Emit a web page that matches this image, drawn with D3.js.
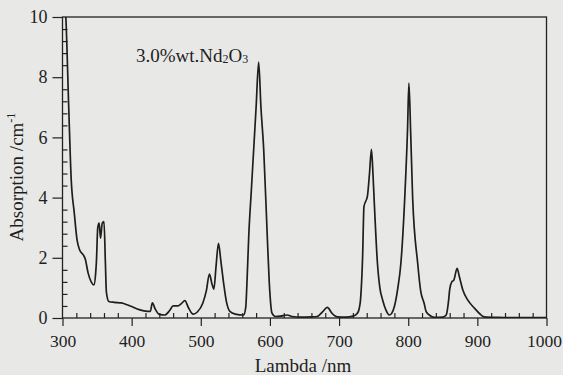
<!DOCTYPE html>
<html>
<head>
<meta charset="utf-8">
<script src="https://cdn.jsdelivr.net/npm/d3@7"></script>
<style>
  body { margin: 0; background: #e8e8e6; }
  svg text { font-family: "Liberation Serif", "DejaVu Serif", serif; fill: #1e1e1e; }
</style>
</head>
<body>
<div id="chart"></div>
<script>
// wavelength (nm) and absorption (cm^-1)
const lambda = [302, 305, 309, 312.6, 317, 321, 325, 330, 333, 337, 341.5, 345.5, 348, 349, 351, 353, 355, 357.5, 360, 362, 363.5, 367, 375, 385, 392, 400, 411, 420, 427, 430, 434, 440, 448, 455, 460, 467, 472, 477, 482, 489, 495, 503, 508, 512.5, 516, 519, 522, 525.6, 529, 533, 537, 542, 550, 562, 565, 567, 569.5, 573, 576.5, 580, 583.7, 587, 591, 596, 599, 603, 608, 615, 625, 632, 645, 660, 668, 676, 683, 690, 697, 710, 720, 726.5, 729, 731, 734, 736, 741, 744, 746.8, 749, 750.6, 755.5, 759, 763, 768, 772.5, 776, 780, 785, 789.4, 795, 799, 801, 803.5, 806.4, 813.7, 818, 823, 826, 830.5, 838, 850, 855, 858, 860, 863, 866, 870.7, 874, 879, 886, 896, 903, 910, 930, 960, 1000];
const absorption = [10.8, 9.9, 7.0, 4.6, 3.5, 2.6, 2.25, 2.1, 1.95, 1.5, 1.2, 1.1, 1.5, 1.85, 3.0, 3.15, 2.65, 3.15, 3.2, 1.85, 0.85, 0.55, 0.52, 0.5, 0.45, 0.38, 0.28, 0.23, 0.22, 0.5, 0.3, 0.12, 0.1, 0.25, 0.4, 0.4, 0.48, 0.58, 0.35, 0.13, 0.2, 0.5, 0.9, 1.46, 1.15, 0.96, 1.7, 2.48, 1.9, 1.16, 0.55, 0.22, 0.13, 0.1, 0.35, 1.3, 2.8, 4.2, 5.6, 7.0, 8.5, 7.0, 5.6, 2.8, 1.2, 0.16, 0.05, 0.06, 0.1, 0.05, 0.03, 0.04, 0.05, 0.2, 0.35, 0.15, 0.04, 0.03, 0.06, 0.16, 0.3, 0.6, 2.0, 3.7, 4.05, 4.8, 5.6, 4.8, 4.0, 1.82, 1.0, 0.6, 0.25, 0.1, 0.15, 0.38, 1.0, 1.82, 4.0, 6.25, 7.8, 6.2, 4.0, 1.82, 0.9, 0.49, 0.21, 0.1, 0.02, 0.03, 0.1, 0.5, 0.95, 1.2, 1.26, 1.65, 1.37, 0.93, 0.6, 0.32, 0.15, 0.04, 0.02, 0.01, 0.01];

const xTicks = [300, 400, 500, 600, 700, 800, 900, 1000];
const yTicks = [0, 2, 4, 6, 8, 10];
const sampleLabel = ["3.0%wt.Nd", "2", "O", "3"];

const width = 563, height = 375;
const plotLeft = 62.5, plotRight = 546.5, plotTop = 17, plotBottom = 318;

const svg = d3.select("#chart").append("svg")
    .attr("width", width)
    .attr("height", height);

svg.append("rect")
    .attr("width", width).attr("height", height)
    .attr("fill", "#e8e8e6");

const x = d3.scaleLinear().domain([300, 1000]).range([plotLeft, plotRight]);
const y = d3.scaleLinear().domain([0, 10]).range([plotBottom, plotTop]);

// frame
svg.append("rect")
    .attr("x", plotLeft).attr("y", plotTop)
    .attr("width", plotRight - plotLeft).attr("height", plotBottom - plotTop)
    .attr("fill", "none")
    .attr("stroke", "#222")
    .attr("stroke-width", 1.3);

// x axis: major ticks out, minor ticks in
const xAxis = svg.append("g").attr("transform", `translate(0,${plotBottom})`);
xAxis.call(d3.axisBottom(x).tickValues(d3.range(320, 1000, 20).filter(v => v % 100 != 0))
        .tickSize(-5).tickFormat(""))
    .call(g => g.select(".domain").remove());
xAxis.append("g")
    .call(d3.axisBottom(x).tickValues(xTicks).tickSize(8).tickPadding(9).tickFormat(d3.format("d")))
    .call(g => g.select(".domain").remove())
    .selectAll("text")
    .style("font-size", "17.5px")
    .attr("dx", d => d == 1000 ? -2.5 : 0);
xAxis.selectAll("line").attr("stroke", "#222").attr("stroke-width", 1.2);

// y axis
const yAxis = svg.append("g").attr("transform", `translate(${plotLeft},0)`);
yAxis.call(d3.axisLeft(y).tickValues(d3.range(0.4, 10, 0.4).filter(v => Math.abs(v / 2 - Math.round(v / 2)) > 0.01))
        .tickSize(-5).tickFormat(""))
    .call(g => g.select(".domain").remove());
yAxis.append("g")
    .call(d3.axisLeft(y).tickValues(yTicks).tickSize(10).tickPadding(5))
    .call(g => g.select(".domain").remove())
    .selectAll("text")
    .style("font-size", "18px");
yAxis.selectAll("line").attr("stroke", "#222").attr("stroke-width", 1.2);

// spectrum
svg.append("clipPath").attr("id", "clip")
    .append("rect")
    .attr("x", plotLeft).attr("y", plotTop)
    .attr("width", plotRight - plotLeft).attr("height", plotBottom - plotTop);

const points = lambda.map((l, i) => [l, absorption[i]]);
const line = d3.line()
    .x(d => x(d[0]))
    .y(d => y(d[1]))
    .curve(d3.curveMonotoneX);

svg.append("path")
    .datum(points)
    .attr("clip-path", "url(#clip)")
    .attr("d", line)
    .attr("fill", "none")
    .attr("stroke", "#1e1e1e")
    .attr("stroke-width", 1.7);

// labels
const note = svg.append("text")
    .attr("x", 136).attr("y", 62)
    .style("font-size", "19px");
note.append("tspan").text(sampleLabel[0]);
note.append("tspan").text(sampleLabel[1]).style("font-size", "12px").attr("dy", 1);
note.append("tspan").text(sampleLabel[2]).attr("dy", -1);
note.append("tspan").text(sampleLabel[3]).style("font-size", "12px").attr("dy", 1);

svg.append("text")
    .attr("x", 303).attr("y", 372)
    .attr("text-anchor", "middle")
    .style("font-size", "19px")
    .text("Lambda /nm");

const yTitle = svg.append("text")
    .attr("transform", "translate(23,177) rotate(-90)")
    .attr("text-anchor", "middle")
    .style("font-size", "19px");
yTitle.append("tspan").text("Absorption /cm");
yTitle.append("tspan").text("-1").style("font-size", "12px").attr("dy", -8);
</script>
</body>
</html>
